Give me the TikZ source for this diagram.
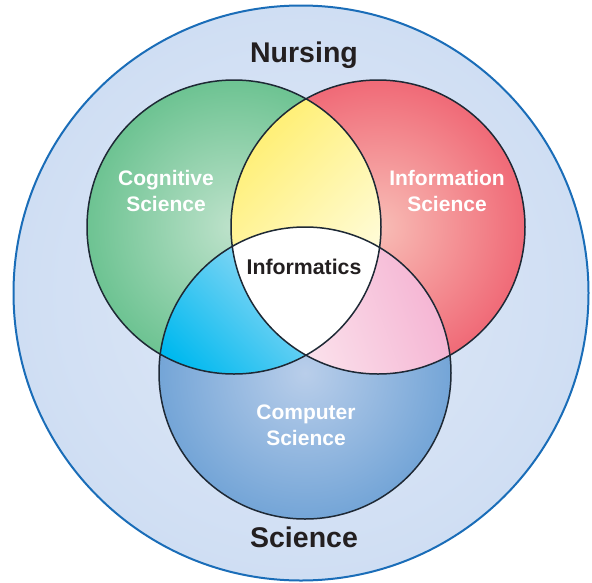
\documentclass[tikz,border=0pt]{standalone}
\usepackage{fontspec}
\setmainfont{Liberation Sans}
\definecolor{outerfill}{HTML}{CFDEF3}
\definecolor{outerin}{HTML}{E0E9F7}
\definecolor{outerline}{HTML}{1A6DB8}
\definecolor{greenout}{HTML}{6DC392}
\definecolor{greenin}{HTML}{BEE2CB}
\definecolor{redout}{HTML}{F06A77}
\definecolor{redin}{HTML}{F8BDB6}
\definecolor{blueout}{HTML}{74A5D7}
\definecolor{bluein}{HTML}{B9CEEA}
\definecolor{yelsat}{HTML}{FFEE6A}
\definecolor{yelpale}{HTML}{FFFCDC}
\definecolor{cyansat}{HTML}{00B9EF}
\definecolor{cyanpale}{HTML}{A8DEF6}
\definecolor{pinksat}{HTML}{F4ADCF}
\definecolor{pinkpale}{HTML}{FBE2EC}
\definecolor{ringline}{HTML}{1E2935}
\definecolor{txtdark}{HTML}{231F20}
\tikzset{
  ring/.style={draw=ringline, line width=1.5pt},
  bigtxt/.style={font=\bfseries\fontsize{28.5}{30}\selectfont, text=txtdark},
  areatxt/.style={font=\bfseries\fontsize{21}{26}\selectfont, text=white, align=center},
  midtxt/.style={font=\bfseries\fontsize{21.3}{26}\selectfont, text=txtdark}
}
\begin{document}
\begin{tikzpicture}[x=1pt,y=-1pt]
\useasboundingbox (0,0) rectangle (592,582);
% outer circle
\shade[inner color=outerin, outer color=outerfill] (301,293) circle (287.5);
\draw[outerline, line width=2pt] (301,293) circle (287.5);
\coordinate (G) at (234,227);
\coordinate (R) at (378,227);
\coordinate (B) at (305,373);
% three circles
\shade[inner color=greenin, outer color=greenout] (G) circle (147);
\shade[inner color=redin, outer color=redout] (R) circle (147);
\shade[inner color=bluein, outer color=blueout] (B) circle (146);
% yellow: G and R
\begin{scope}
  \clip (G) circle (147);
  \clip (R) circle (147);
  \shade[top color=yelsat, bottom color=yelpale, shading angle=45] (220,90) rectangle (390,300);
\end{scope}
% cyan: G and B
\begin{scope}
  \clip (G) circle (147);
  \clip (B) circle (146);
  \shade[top color=cyanpale, bottom color=cyansat, shading angle=-45] (150,220) rectangle (320,385);
\end{scope}
% pink: R and B
\begin{scope}
  \clip (R) circle (147);
  \clip (B) circle (146);
  \shade[top color=pinksat, bottom color=pinkpale, shading angle=-70] (290,220) rectangle (460,385);
\end{scope}
% white: all three
\begin{scope}
  \clip (G) circle (147);
  \clip (R) circle (147);
  \fill[white] (B) circle (146);
\end{scope}
\draw[ring] (G) circle (147);
\draw[ring] (R) circle (147);
\draw[ring] (B) circle (146);
% labels
\node[bigtxt] (nursing) at (304,55) {Nursing};
\node[bigtxt] (science) at (304,537) {Science};
\node[areatxt] (cog) at (166,191) {Cognitive\\Science};
\node[areatxt] (inf) at (447,191) {Information\\Science};
\node[areatxt] (comp) at (306,425) {Computer\\Science};
\node[midtxt] (informatics) at (304,267) {Informatics};
\end{tikzpicture}
\end{document}
